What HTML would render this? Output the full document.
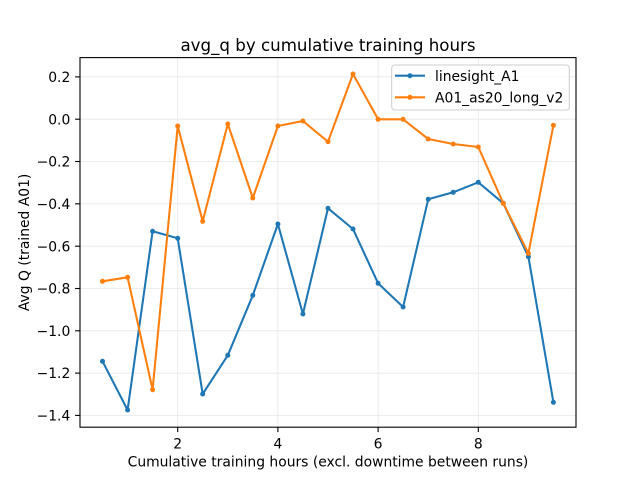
<!DOCTYPE html>
<html><head><meta charset="utf-8"><style>
html,body{margin:0;padding:0;background:#fff;}
svg{display:block;font-family:"DejaVu Sans","Liberation Sans",sans-serif;}
</style></head><body>
<svg width="640" height="480" viewBox="0 0 640 480" xmlns="http://www.w3.org/2000/svg">
<rect width="640" height="480" fill="#fff"/>
<g stroke="#e6e6e6" stroke-width="0.8">
<line x1="80" x2="576" y1="76.9" y2="76.9"/>
<line x1="80" x2="576" y1="119.2" y2="119.2"/>
<line x1="80" x2="576" y1="161.5" y2="161.5"/>
<line x1="80" x2="576" y1="203.8" y2="203.8"/>
<line x1="80" x2="576" y1="246.2" y2="246.2"/>
<line x1="80" x2="576" y1="288.5" y2="288.5"/>
<line x1="80" x2="576" y1="330.8" y2="330.8"/>
<line x1="80" x2="576" y1="373.1" y2="373.1"/>
<line x1="80" x2="576" y1="415.4" y2="415.4"/>
<line x1="177.7" x2="177.7" y1="57.6" y2="427.2"/>
<line x1="277.9" x2="277.9" y1="57.6" y2="427.2"/>
<line x1="378.1" x2="378.1" y1="57.6" y2="427.2"/>
<line x1="478.3" x2="478.3" y1="57.6" y2="427.2"/>
</g>
<polyline fill="none" stroke="#1f77b4" stroke-width="2.08" stroke-linejoin="round" points="102.5,361.3 127.6,410 152.6,231.3 177.7,238.3 202.7,394 227.8,355.3 252.8,295.3 277.9,224 302.9,314 328,208.3 353,229 378.1,283.3 403.1,307 428.2,199.3 453.2,192.3 478.3,182.3 503.3,203.3 528.4,256.7 553.4,402.3"/>
<g fill="#1f77b4">
<circle cx="102.5" cy="361.3" r="2.5"/><circle cx="127.6" cy="410" r="2.5"/><circle cx="152.6" cy="231.3" r="2.5"/><circle cx="177.7" cy="238.3" r="2.5"/><circle cx="202.7" cy="394" r="2.5"/><circle cx="227.8" cy="355.3" r="2.5"/><circle cx="252.8" cy="295.3" r="2.5"/><circle cx="277.9" cy="224" r="2.5"/><circle cx="302.9" cy="314" r="2.5"/><circle cx="328" cy="208.3" r="2.5"/><circle cx="353" cy="229" r="2.5"/><circle cx="378.1" cy="283.3" r="2.5"/><circle cx="403.1" cy="307" r="2.5"/><circle cx="428.2" cy="199.3" r="2.5"/><circle cx="453.2" cy="192.3" r="2.5"/><circle cx="478.3" cy="182.3" r="2.5"/><circle cx="503.3" cy="203.3" r="2.5"/><circle cx="528.4" cy="256.7" r="2.5"/><circle cx="553.4" cy="402.3" r="2.5"/>
</g>
<polyline fill="none" stroke="#ff7f0e" stroke-width="2.08" stroke-linejoin="round" points="102.5,281.3 127.6,277.3 152.6,389.7 177.7,126 202.7,221.3 227.8,124 252.8,198 277.9,126 302.9,121 328,141.7 353,74 378.1,119.3 403.1,119.3 428.2,139 453.2,144 478.3,147 503.3,203.3 528.4,253.3 553.4,125.3"/>
<g fill="#ff7f0e">
<circle cx="102.5" cy="281.3" r="2.5"/><circle cx="127.6" cy="277.3" r="2.5"/><circle cx="152.6" cy="389.7" r="2.5"/><circle cx="177.7" cy="126" r="2.5"/><circle cx="202.7" cy="221.3" r="2.5"/><circle cx="227.8" cy="124" r="2.5"/><circle cx="252.8" cy="198" r="2.5"/><circle cx="277.9" cy="126" r="2.5"/><circle cx="302.9" cy="121" r="2.5"/><circle cx="328" cy="141.7" r="2.5"/><circle cx="353" cy="74" r="2.5"/><circle cx="378.1" cy="119.3" r="2.5"/><circle cx="403.1" cy="119.3" r="2.5"/><circle cx="428.2" cy="139" r="2.5"/><circle cx="453.2" cy="144" r="2.5"/><circle cx="478.3" cy="147" r="2.5"/><circle cx="503.3" cy="203.3" r="2.5"/><circle cx="528.4" cy="253.3" r="2.5"/><circle cx="553.4" cy="125.3" r="2.5"/>
</g>
<rect x="80" y="57.6" width="496" height="369.6" fill="none" stroke="#000" stroke-width="1.1"/>
<g stroke="#000" stroke-width="1.1">
<line x1="75.1" x2="80" y1="76.9" y2="76.9"/>
<line x1="75.1" x2="80" y1="119.2" y2="119.2"/>
<line x1="75.1" x2="80" y1="161.5" y2="161.5"/>
<line x1="75.1" x2="80" y1="203.8" y2="203.8"/>
<line x1="75.1" x2="80" y1="246.2" y2="246.2"/>
<line x1="75.1" x2="80" y1="288.5" y2="288.5"/>
<line x1="75.1" x2="80" y1="330.8" y2="330.8"/>
<line x1="75.1" x2="80" y1="373.1" y2="373.1"/>
<line x1="75.1" x2="80" y1="415.4" y2="415.4"/>
<line x1="177.7" x2="177.7" y1="427.2" y2="432.1"/>
<line x1="277.9" x2="277.9" y1="427.2" y2="432.1"/>
<line x1="378.1" x2="378.1" y1="427.2" y2="432.1"/>
<line x1="478.3" x2="478.3" y1="427.2" y2="432.1"/>
</g>
<g font-size="13.89" fill="#000" text-anchor="end">
<text x="70.3" y="82">0.2</text>
<text x="70.3" y="124.3">0.0</text>
<text x="70.3" y="166.6">−0.2</text>
<text x="70.3" y="208.9">−0.4</text>
<text x="70.3" y="251.3">−0.6</text>
<text x="70.3" y="293.6">−0.8</text>
<text x="70.3" y="335.9">−1.0</text>
<text x="70.3" y="378.2">−1.2</text>
<text x="70.3" y="420.5">−1.4</text>
</g>
<g font-size="13.89" fill="#000" text-anchor="middle">
<text x="177.7" y="448.3">2</text>
<text x="277.9" y="448.3">4</text>
<text x="378.1" y="448.3">6</text>
<text x="478.3" y="448.3">8</text>
<text x="328" y="466.5">Cumulative training hours (excl. downtime between runs)</text>
</g>
<text x="328" y="51" font-size="16.67" text-anchor="middle" fill="#000">avg_q by cumulative training hours</text>
<text transform="translate(29,242.4) rotate(-90)" font-size="13.89" text-anchor="middle" fill="#000">Avg Q (trained A01)</text>
<rect x="391.7" y="65" width="177.6" height="45" rx="3" ry="3" fill="#fff" fill-opacity="0.8" stroke="#cccccc" stroke-width="1"/>
<line x1="395" x2="425" y1="75.7" y2="75.7" stroke="#1f77b4" stroke-width="2.08"/>
<circle cx="410" cy="75.7" r="2.5" fill="#1f77b4"/>
<line x1="395" x2="425" y1="97.3" y2="97.3" stroke="#ff7f0e" stroke-width="2.08"/>
<circle cx="410" cy="97.3" r="2.5" fill="#ff7f0e"/>
<text x="435" y="80.9" font-size="13.89" fill="#000">linesight_A1</text>
<text x="435" y="102.5" font-size="13.89" fill="#000">A01_as20_long_v2</text>
</svg>
</body></html>
